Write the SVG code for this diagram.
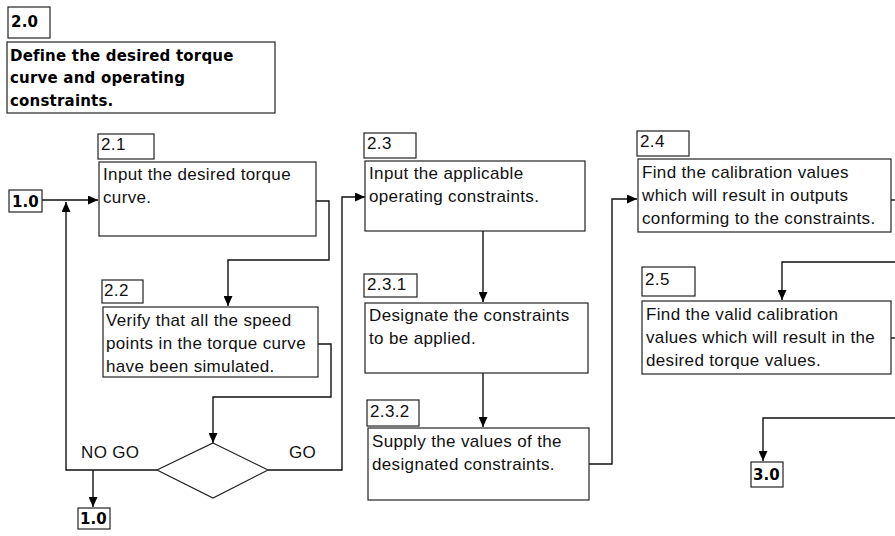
<svg xmlns="http://www.w3.org/2000/svg" width="895" height="536" viewBox="0 0 895 536">
  <style>
    .box { fill: #ffffff; stroke: #222222; stroke-width: 1.2; }
    .wire { fill: none; stroke: #111111; stroke-width: 1.4; }
    .txt { font-family: "Liberation Sans", Arial, sans-serif; font-size: 17px; letter-spacing: 0.35px; fill: #111111; }
    .bold { font-family: "DejaVu Sans", Verdana, sans-serif; font-weight: bold; font-size: 15px; letter-spacing: 0.2px; fill: #000000; }
    .ref { font-family: "DejaVu Sans", Verdana, sans-serif; font-weight: bold; font-size: 15px; fill: #000000; }
  </style>
  <defs>
    <marker id="arrow" markerUnits="userSpaceOnUse" markerWidth="10" markerHeight="9" refX="10" refY="4.5" orient="auto">
      <path d="M0,0 L10,4.5 L0,9 z" fill="#000000"/>
    </marker>
  </defs>
  <rect width="895" height="536" fill="#ffffff"/>

  <!-- process header -->
  <g id="node-2-0">
    <rect class="box" x="8" y="7" width="42" height="31"/>
    <text class="bold" x="11" y="27">2.0</text>
    <rect class="box" x="7" y="42" width="268" height="71"/>
    <text class="bold" x="10" y="61">Define the desired torque</text>
    <text class="bold" x="10" y="83">curve and operating</text>
    <text class="bold" x="10" y="106">constraints.</text>
  </g>

  <!-- connectors -->
  <g id="connectors">
    <path class="wire" d="M42,200 H98" marker-end="url(#arrow)"/>
    <path class="wire" d="M157,470 H66 V202" marker-end="url(#arrow)"/>
    <path class="wire" d="M93,470 V507" marker-end="url(#arrow)"/>
    <path class="wire" d="M316,201 H329 V260 H228 V306" marker-end="url(#arrow)"/>
    <path class="wire" d="M318,344 H331 V397 H213 V443" marker-end="url(#arrow)"/>
    <path class="wire" d="M268,470 H342 V197 H365" marker-end="url(#arrow)"/>
    <path class="wire" d="M483,231 V302" marker-end="url(#arrow)"/>
    <path class="wire" d="M483,373 V427" marker-end="url(#arrow)"/>
    <path class="wire" d="M589,464 H612 V199 H637" marker-end="url(#arrow)"/>
    <path class="wire" d="M891,200 H895"/>
    <path class="wire" d="M895,262 H782 V300" marker-end="url(#arrow)"/>
    <path class="wire" d="M891,338 H895"/>
    <path class="wire" d="M895,418 H763 V461" marker-end="url(#arrow)"/>
  </g>

  <g id="node-1-0-in">
    <rect class="box" x="9" y="190" width="33" height="22"/>
    <text class="ref" x="12" y="207">1.0</text>
  </g>

  <g id="node-2-1">
    <rect class="box" x="98" y="134" width="56" height="25"/>
    <text class="txt" x="101" y="150">2.1</text>
    <rect class="box" x="99" y="162" width="217" height="74"/>
    <text class="txt" x="103" y="180">Input the desired torque</text>
    <text class="txt" x="103" y="203">curve.</text>
  </g>

  <g id="node-2-2">
    <rect class="box" x="102" y="280" width="41" height="23"/>
    <text class="txt" x="104" y="296">2.2</text>
    <rect class="box" x="103" y="307" width="215" height="70"/>
    <text class="txt" x="106" y="326">Verify that all the speed</text>
    <text class="txt" x="106" y="349">points in the torque curve</text>
    <text class="txt" x="106" y="372">have been simulated.</text>
  </g>

  <g id="decision">
    <path class="box" d="M213,443 L268,470 L213,498 L157,470 Z"/>
    <text class="txt" x="81" y="458">NO GO</text>
    <text class="txt" x="289" y="458">GO</text>
  </g>

  <g id="node-1-0-out">
    <rect class="box" x="78" y="508" width="32" height="21"/>
    <text class="ref" x="80" y="524">1.0</text>
  </g>

  <g id="node-2-3">
    <rect class="box" x="364" y="133" width="52" height="25"/>
    <text class="txt" x="367" y="149">2.3</text>
    <rect class="box" x="365" y="161" width="220" height="70"/>
    <text class="txt" x="369" y="179">Input the applicable</text>
    <text class="txt" x="369" y="202">operating constraints.</text>
  </g>

  <g id="node-2-3-1">
    <rect class="box" x="364" y="274" width="53" height="23"/>
    <text class="txt" x="367" y="290">2.3.1</text>
    <rect class="box" x="365" y="303" width="223" height="70"/>
    <text class="txt" x="369" y="321">Designate the constraints</text>
    <text class="txt" x="369" y="344">to be applied.</text>
  </g>

  <g id="node-2-3-2">
    <rect class="box" x="367" y="400" width="52" height="26"/>
    <text class="txt" x="370" y="417">2.3.2</text>
    <rect class="box" x="368" y="428" width="221" height="72"/>
    <text class="txt" x="372" y="447">Supply the values of the</text>
    <text class="txt" x="372" y="470">designated constraints.</text>
  </g>

  <g id="node-2-4">
    <rect class="box" x="637" y="131" width="52" height="25"/>
    <text class="txt" x="640" y="147">2.4</text>
    <rect class="box" x="638" y="159" width="253" height="73"/>
    <text class="txt" x="642" y="178">Find the calibration values</text>
    <text class="txt" x="642" y="201">which will result in outputs</text>
    <text class="txt" x="642" y="224">conforming to the constraints.</text>
  </g>

  <g id="node-2-5">
    <rect class="box" x="642" y="267" width="53" height="29"/>
    <text class="txt" x="645" y="285">2.5</text>
    <rect class="box" x="642" y="301" width="249" height="73"/>
    <text class="txt" x="646" y="320">Find the valid calibration</text>
    <text class="txt" x="646" y="343">values which will result in the</text>
    <text class="txt" x="646" y="366">desired torque values.</text>
  </g>

  <g id="node-3-0">
    <rect class="box" x="751" y="462" width="32" height="25"/>
    <text class="ref" x="753" y="480">3.0</text>
  </g>
</svg>
